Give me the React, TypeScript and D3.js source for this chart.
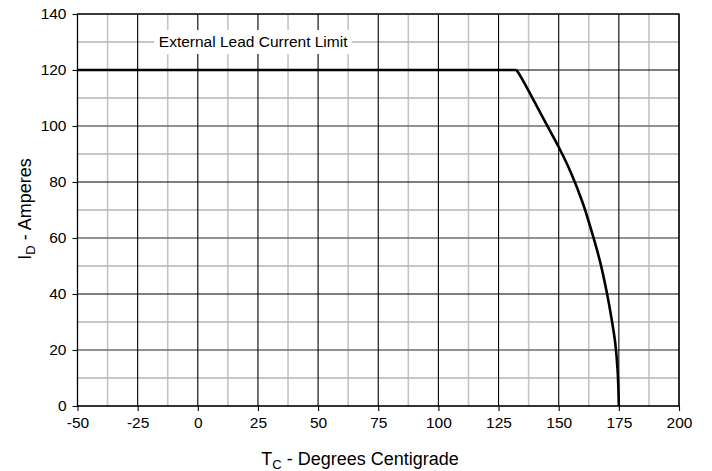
import React, { useEffect, useRef } from 'react';
import * as d3 from 'd3';

// case temperature (deg C) vs drain current (A)
const limitTemp = [-50, 132.5];
const limitCurrent = [120, 120];
const tempC = [132.5, 135, 140, 145, 150, 155, 160, 165, 167.5, 170, 172, 173.5, 174.5, 175];
const currentA = [120, 116.5, 108.5, 100.5, 92.5, 83.5, 72.5, 58.5, 50.5, 40.5, 31, 22.5, 12.5, 0];

const xTicks = [-50, -25, 0, 25, 50, 75, 100, 125, 150, 175, 200];
const yTicks = [0, 20, 40, 60, 80, 100, 120, 140];
const xGrid = d3.range(-50, 200.1, 12.5);
const yGrid = d3.range(0, 140.1, 10);

const noteText = 'External Lead Current Limit';
const noteAt = { t: 23, i: 130 };

const width = 712;
const height = 471;
const margin = { top: 14, right: 33, bottom: 65, left: 77.5 };

const App: React.FC = () => {
  const svgRef = useRef<SVGSVGElement>(null);

  useEffect(() => {
    if (!svgRef.current) return;
    const svg = d3.select(svgRef.current);
    svg.selectAll('*').remove();

    const chartWidth = width - margin.left - margin.right;
    const chartHeight = height - margin.top - margin.bottom;
    const font = '"Liberation Sans", Arial, sans-serif';

    const xScale = d3.scaleLinear().domain([-50, 200]).range([0, chartWidth]);
    const yScale = d3.scaleLinear().domain([0, 140]).range([chartHeight, 0]);

    const g = svg.append('g')
      .attr('transform', `translate(${margin.left},${margin.top})`);

    // Minor grid
    g.selectAll('line.vminor')
      .data(xGrid.filter(v => v % 25 !== 0))
      .enter()
      .append('line')
      .attr('x1', d => xScale(d)).attr('x2', d => xScale(d))
      .attr('y1', 0).attr('y2', chartHeight)
      .attr('stroke', '#c4c4c4')
      .attr('stroke-width', 1.6);

    g.selectAll('line.hminor')
      .data(yGrid.filter(v => v % 20 !== 0))
      .enter()
      .append('line')
      .attr('x1', 0).attr('x2', chartWidth)
      .attr('y1', d => yScale(d)).attr('y2', d => yScale(d))
      .attr('stroke', '#b4b4b4')
      .attr('stroke-width', 1.3);

    // Major grid
    g.selectAll('line.hmajor')
      .data(yTicks)
      .enter()
      .append('line')
      .attr('x1', 0).attr('x2', chartWidth)
      .attr('y1', d => yScale(d)).attr('y2', d => yScale(d))
      .attr('stroke', d => (d / 20) % 2 === 0 ? '#000' : '#6e6e6e')
      .attr('stroke-width', d => (d / 20) % 2 === 0 ? 1.1 : 1.5);

    g.selectAll('line.vmajor')
      .data(xTicks)
      .enter()
      .append('line')
      .attr('x1', d => xScale(d)).attr('x2', d => xScale(d))
      .attr('y1', 0).attr('y2', chartHeight)
      .attr('stroke', '#000')
      .attr('stroke-width', 1.1);

    // Annotation with white box
    const nx = xScale(noteAt.t);
    const ny = yScale(noteAt.i);
    g.append('rect')
      .attr('x', nx - 99)
      .attr('y', ny - 12)
      .attr('width', 198)
      .attr('height', 24)
      .attr('fill', '#fff');
    g.append('text')
      .attr('x', nx)
      .attr('y', ny)
      .attr('dy', '0.35em')
      .attr('text-anchor', 'middle')
      .attr('font-family', font)
      .attr('font-size', 15.5)
      .attr('fill', '#000')
      .text(noteText);

    // Axes
    const xAxis = g.append('g')
      .attr('transform', `translate(0,${chartHeight})`)
      .call(d3.axisBottom(xScale).tickValues(xTicks).tickSize(5).tickPadding(6).tickFormat(d => String(d)));
    const yAxis = g.append('g')
      .call(d3.axisLeft(yScale).tickValues(yTicks).tickSize(5).tickPadding(6).tickFormat(d => String(d)));
    [xAxis, yAxis].forEach(a => {
      a.select('.domain').remove();
      a.selectAll('line').attr('stroke', '#000').attr('stroke-width', 1.1);
      a.selectAll('text')
        .attr('font-family', font)
        .attr('font-size', 15.5)
        .attr('fill', '#000');
    });

    // Flat current limit, then the thermal curve
    g.append('path')
      .datum(limitTemp.map((t, i) => [t, limitCurrent[i]] as [number, number]))
      .attr('fill', 'none')
      .attr('stroke', '#000')
      .attr('stroke-width', 2.6)
      .attr('d', d3.line<[number, number]>().x(d => xScale(d[0])).y(d => yScale(d[1])));

    const pts = tempC.map((t, i) => [t, currentA[i]] as [number, number]);
    const line = d3.line<[number, number]>()
      .x(d => xScale(d[0]))
      .y(d => yScale(d[1]))
      .curve(d3.curveCatmullRom.alpha(0.5));
    g.append('path')
      .datum(pts)
      .attr('fill', 'none')
      .attr('stroke', '#000')
      .attr('stroke-width', 2.6)
      .attr('stroke-linejoin', 'round')
      .attr('d', line);

    // Frame
    g.append('rect')
      .attr('x', 0).attr('y', 0)
      .attr('width', chartWidth).attr('height', chartHeight)
      .attr('fill', 'none')
      .attr('stroke', '#000')
      .attr('stroke-width', 1.2);

    // Axis titles
    const xt = svg.append('text')
      .attr('x', 360)
      .attr('y', 465)
      .attr('text-anchor', 'middle')
      .attr('font-family', font)
      .attr('font-size', 18)
      .attr('fill', '#000');
    xt.append('tspan').text('T');
    xt.append('tspan').attr('font-size', 13).attr('dy', 4).text('C');
    xt.append('tspan').attr('dy', -4).text(' - Degrees Centigrade');

    const yt = svg.append('text')
      .attr('transform', `translate(31,${margin.top + chartHeight / 2 - 1}) rotate(-90)`)
      .attr('text-anchor', 'middle')
      .attr('font-family', font)
      .attr('font-size', 18)
      .attr('fill', '#000');
    yt.append('tspan').text('I');
    yt.append('tspan').attr('font-size', 13).attr('dy', 4).text('D');
    yt.append('tspan').attr('dy', -4).text(' - Amperes');
  }, []);

  return (
    <svg
      ref={svgRef}
      width={width}
      height={height}
      style={{ position: 'absolute', left: 0, top: 0, background: '#fff' }}
    />
  );
};

export default App;
